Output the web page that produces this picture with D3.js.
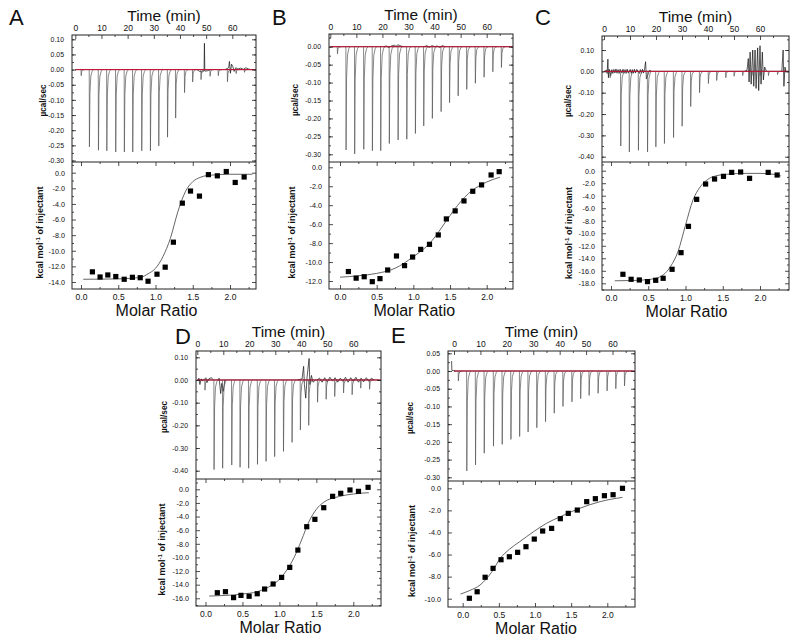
<!DOCTYPE html>
<html><head><meta charset="utf-8">
<script src="https://cdn.jsdelivr.net/npm/d3@7"></script>
<style>
body{margin:0;background:#fff}
svg{display:block}
text{font-family:"Liberation Sans",Arial,sans-serif;fill:#111}
</style>
</head><body>
<svg id="c" width="800" height="642"></svg>
<script>
// ---------- DATA ----------
const timeTicks = [0,10,20,30,40,50,60];
const ratioTicks = [0,0.5,1.0,1.5,2.0];
const topTicksA = [0.10,0.05,0,-0.05,-0.10,-0.15,-0.20,-0.25,-0.30];
const topTicksB = [0,-0.05,-0.10,-0.15,-0.20,-0.25,-0.30];
const topTicksC = [0.10,0,-0.10,-0.20,-0.30,-0.40];
const topTicksD = [0.10,0,-0.10,-0.20,-0.30,-0.40];
const topTicksE = [0.05,0,-0.05,-0.10,-0.15,-0.20,-0.25,-0.30];
const botTicksA = [0,-2,-4,-6,-8,-10,-12,-14];
const botTicksB = [0,-2,-4,-6,-8,-10,-12];
const botTicksC = [0,-2,-4,-6,-8,-10,-12,-14,-16,-18];
const botTicksD = [0,-2,-4,-6,-8,-10,-12,-14,-16];
const botTicksE = [0,-2,-4,-6,-8,-10];

// injection peaks: [time (min), peak minimum (ucal/sec)]
const aPeaks = [[2.2,-0.02],[5.35,-0.255],[8.8,-0.266],[12.0,-0.268],[15.4,-0.272],[18.7,-0.272],[21.9,-0.272],[25.35,-0.268],[28.66,-0.268],[31.85,-0.252],[35.2,-0.223],[38.3,-0.16],[41.7,-0.076],[44.8,-0.041],[48.0,-0.033],[51.46,-0.022],[54.6,-0.02],[58.1,-0.04],[61.4,-0.013],[64.6,-0.009]];
const bPeaks = [[2.7,-0.02],[6.0,-0.288],[9.3,-0.299],[12.8,-0.286],[16.1,-0.29],[19.3,-0.29],[22.6,-0.27],[25.96,-0.26],[29.3,-0.258],[32.6,-0.242],[35.8,-0.221],[39.1,-0.2],[42.46,-0.181],[45.7,-0.156],[49.0,-0.137],[52.3,-0.119],[55.6,-0.102],[58.95,-0.085],[62.3,-0.07],[65.6,-0.058]];
const cPeaks = [[2.3,-0.03],[6.4,-0.35],[9.7,-0.378],[13.2,-0.37],[16.7,-0.378],[19.9,-0.354],[23.2,-0.338],[26.7,-0.31],[30.0,-0.257],[33.3,-0.165],[36.7,-0.1],[40.1,-0.057],[43.3,-0.043],[46.8,-0.03],[50.0,-0.023],[53.3,-0.02],[56.8,-0.02],[60.0,-0.02],[63.2,-0.02],[66.7,-0.015]];
const dPeaks = [[2.9,-0.045],[6.4,-0.395],[9.7,-0.389],[13.2,-0.375],[16.4,-0.385],[19.7,-0.389],[23.1,-0.372],[26.4,-0.359],[29.7,-0.338],[33.1,-0.315],[36.4,-0.275],[39.6,-0.22],[42.8,-0.2],[46.2,-0.098],[49.5,-0.085],[52.8,-0.073],[56.2,-0.057],[59.5,-0.065],[62.8,-0.036],[66.2,-0.041]];
const ePeaks = [[1.6,-0.028],[4.8,-0.282],[8.1,-0.265],[11.4,-0.232],[14.9,-0.212],[18.2,-0.207],[21.5,-0.193],[24.8,-0.185],[28.0,-0.172],[31.3,-0.16],[34.6,-0.143],[37.9,-0.119],[41.2,-0.1],[44.6,-0.087],[47.9,-0.078],[51.1,-0.069],[54.5,-0.063],[57.9,-0.056],[61.2,-0.05],[64.5,-0.042]];

// baseline disturbances: polylines of [time, ucal/sec]
const aNoise = [
  [[46.5,0],[47.5,-0.006],[48.5,-0.008],[49.2,-0.004],[49.35,0.087],[49.5,-0.005],[50.5,-0.004],[51.5,0]],
  [[57.2,0],[58.6,0.006],[58.9,0.027],[59.3,-0.012],[59.7,0.018],[60.2,0.01],[60.7,-0.006],[61.3,0.006],[62.2,0.002],[63.2,0.005],[64.2,0.001],[65.2,0.006],[66.2,0.002],[67,0]]
];
const bNoise = [
  [[20.5,0],[21.5,0.002],[22.3,-0.002],[23.8,0.003],[24.6,0.004],[25.2,0.001],[25.9,0.005],[26.4,0.004],[27.1,0.002],[28,0]],
  [[36,0],[37,0.003],[38,-0.002],[39,0.003],[40,0],[41,0.002],[42,-0.002],[43,0.003],[44,0]]
];
const cNoise = [
  [[0.4,0],[0.9,0.006],[1.2,-0.01],[1.5,0.057],[1.7,-0.03],[2.0,0.01],[2.4,-0.012],[2.6,-0.02],[3.0,0.008],[3.4,-0.01],[3.8,0.009],[4.2,-0.008],[4.6,0.011],[5.0,-0.009],[5.4,0.008],[5.8,-0.01],[6.2,0.01],[6.9,-0.008],[7.3,0.01],[7.7,-0.009],[8.1,0.008],[8.5,-0.01],[8.9,0.01],[9.3,-0.008],[10.1,0.009],[10.5,-0.01],[10.9,0.008],[11.3,-0.009],[11.7,0.01],[12.1,-0.008],[12.6,0.009],[13.6,-0.01],[14.0,0.008],[14.4,-0.009],[14.8,0.01],[15.2,-0.008],[15.6,0.01],[16.0,0.045],[16.3,-0.035],[17.0,-0.012],[17.5,0.005],[18.2,0]],
  [[54,0],[55,0.005],[55.5,0.06],[55.8,-0.05],[56.2,0.09],[56.6,-0.06],[57.2,0.1],[57.6,-0.07],[58.1,0.1],[58.5,-0.08],[59.1,0.11],[59.5,-0.09],[60,0.12],[60.4,-0.06],[60.9,0.09],[61.3,-0.04],[61.8,0.02],[62.5,0]],
  [[68.4,0],[68.9,0.1],[69.2,-0.07],[69.6,0.02],[70,0]]
];
const dNoise = [
  [[0.3,0],[0.6,0.008],[1.0,-0.02],[1.5,0.005],[2.0,-0.005],[3.3,0.01],[3.7,-0.012],[4.5,0.006],[5.5,0.01],[6.0,0.002]],
  [[7.8,0],[8.4,0.008],[9.0,-0.06],[9.4,-0.015],[10.0,-0.05],[10.6,0]],
  [[38.5,0],[40.3,0.005],[40.9,0.06],[41.2,-0.02],[41.7,-0.08],[42.2,0.01],[43.0,0.095],[43.3,-0.02],[43.9,0.02],[44.5,-0.01],[45.5,0]],
  [[46,0],[47,0.008],[48,-0.01],[49,0.01],[50,-0.008],[51,0.012],[52,-0.005],[53,0.01],[54,-0.01],[55,0.008],[56,-0.006],[57,0.012],[58,-0.01],[59,0.01],[60,-0.005],[61,0.012],[62,-0.01],[63,0.008],[64,-0.008],[65,0.01],[66,-0.006],[67,0.008],[68,0]]
];
const eNoise = [
  [[-0.9,0.028],[-0.8,0.002],[0.5,0]]
];

// integrated heats: molar ratio and kcal/mol of injectant
const aRatio = [0.153,0.256,0.36,0.467,0.58,0.69,0.795,0.90,1.02,1.13,1.24,1.36,1.47,1.59,1.71,1.83,1.95,2.07,2.19];
const aHeat  = [-12.7,-13.36,-13.1,-13.3,-13.65,-13.4,-13.45,-13.9,-13.0,-12.1,-8.9,-3.9,-2.35,-3.0,-0.25,-0.4,0.15,-1.25,-0.55];
const aFitX  = [0.03,0.5,0.8,0.9,1.0,1.1,1.2,1.3,1.4,1.5,1.6,1.7,2.0,2.3];
const aFitY  = [-13.65,-13.6,-13.4,-12.95,-12.25,-10.75,-8.4,-5.0,-2.45,-1.15,-0.6,-0.35,-0.2,-0.2];

const bRatio = [0.114,0.22,0.33,0.44,0.545,0.65,0.77,0.88,0.99,1.10,1.22,1.34,1.45,1.57,1.69,1.81,1.93,2.06,2.17];
const bHeat  = [-11.0,-11.7,-11.55,-12.07,-11.75,-10.84,-9.36,-10.38,-9.47,-8.66,-8.13,-7.14,-5.45,-4.6,-3.55,-2.53,-1.86,-0.81,-0.46];
const bFitX  = [0.0,0.25,0.5,0.75,1.0,1.2,1.3,1.4,1.5,1.6,1.7,1.8,1.9,2.0,2.18];
const bFitY  = [-11.6,-11.45,-11.2,-10.66,-9.43,-8.2,-7.3,-6.2,-5.1,-4.05,-3.15,-2.45,-1.95,-1.55,-1.05];

const cRatio = [0.16,0.27,0.38,0.49,0.60,0.70,0.82,0.94,1.04,1.15,1.27,1.39,1.51,1.62,1.74,1.86,2.11,2.23];
const cHeat  = [-16.56,-17.36,-17.47,-17.73,-17.52,-17.2,-15.76,-13.1,-8.9,-4.58,-2.13,-1.33,-0.9,-0.27,-0.21,-1.22,-0.27,-0.69];
const cFitX  = [0.05,0.3,0.5,0.6,0.7,0.8,0.9,1.0,1.1,1.2,1.3,1.4,1.6,1.8,2.0,2.2,2.28];
const cFitY  = [-17.6,-17.55,-17.4,-17.2,-16.67,-15.3,-12.9,-8.7,-4.7,-2.55,-1.38,-0.85,-0.53,-0.43,-0.43,-0.6,-0.85];

const dRatio = [0.16,0.27,0.38,0.48,0.59,0.70,0.80,0.915,1.03,1.14,1.25,1.37,1.48,1.60,1.72,1.83,1.955,2.07,2.20];
const dHeat  = [-15.18,-15.03,-15.9,-15.57,-15.7,-15.33,-14.64,-13.9,-12.93,-11.46,-8.92,-5.49,-4.41,-2.7,-1.03,-0.59,-0.1,-0.3,0.29];
const dFitX  = [0.05,0.5,0.7,0.9,1.0,1.1,1.2,1.3,1.4,1.5,1.6,1.8,2.0,2.21];
const dFitY  = [-15.67,-15.37,-15.03,-14.05,-13.22,-11.85,-9.99,-7.44,-4.75,-2.94,-1.9,-1.08,-0.69,-0.5];

const eRatio = [0.092,0.2,0.31,0.42,0.53,0.645,0.76,0.875,0.99,1.106,1.23,1.35,1.46,1.585,1.715,1.835,1.96,2.08,2.21];
const eHeat  = [-9.96,-9.37,-8.06,-7.25,-6.47,-6.2,-5.8,-5.29,-4.6,-3.87,-3.63,-2.75,-2.27,-1.97,-1.21,-0.94,-0.67,-0.58,0.0];
const eFitX  = [-0.03,0.1,0.24,0.4,0.52,0.65,0.79,0.98,1.16,1.35,1.62,1.9,2.21];
const eFitY  = [-9.58,-9.25,-8.76,-7.6,-6.34,-5.5,-4.83,-3.93,-3.17,-2.57,-1.81,-1.21,-0.82];

// ---------- LAYOUT ----------
const layouts = {
  A:{x0:72,x1:256,y0:35,ys:162,y1:289,t:[75.3,232.3],top:[[0.10,39.3],[-0.30,160.5]],bot:[[0,172.7],[-14,282]],mr:[81,230],letter:[9,25],muX:45,kcX:43},
  B:{x0:329,x1:513,y0:34,ys:162,y1:289,t:[330.3,486.7],top:[[0,46.7],[-0.30,154.3]],bot:[[0,167.3],[-12,281]],mr:[340,486.7],letter:[272,25],muX:297.5,kcX:295},
  C:{x0:602,x1:789,y0:36,ys:162,y1:290,t:[604,760],top:[[0.10,50],[-0.40,156.7]],bot:[[0,170.7],[-18,283.3]],mr:[611,760],letter:[535,25],muX:570.5,kcX:572},
  D:{x0:196,x1:381,y0:351,ys:479,y1:606,t:[197.3,353.3],top:[[0.10,357.3],[-0.40,470.7]],bot:[[0,489.3],[-16,598.3]],mr:[205.5,353.3],letter:[175,344],muX:166,kcX:165},
  E:{x0:448,x1:635,y0:351,ys:481,y1:607,t:[454,612.5],top:[[0.05,353.3],[-0.30,477.3]],bot:[[0,488.3],[-10,598.7]],mr:[462.7,607.3],letter:[391,343],muX:412.5,kcX:415}
};
const panels = [
  {id:"A",peaks:aPeaks,noise:aNoise,ratio:aRatio,heat:aHeat,fitX:aFitX,fitY:aFitY,topTicks:topTicksA,botTicks:botTicksA,topStep:0.025},
  {id:"B",peaks:bPeaks,noise:bNoise,ratio:bRatio,heat:bHeat,fitX:bFitX,fitY:bFitY,topTicks:topTicksB,botTicks:botTicksB,topStep:0.025},
  {id:"C",peaks:cPeaks,noise:cNoise,ratio:cRatio,heat:cHeat,fitX:cFitX,fitY:cFitY,topTicks:topTicksC,botTicks:botTicksC,topStep:0.05},
  {id:"D",peaks:dPeaks,noise:dNoise,ratio:dRatio,heat:dHeat,fitX:dFitX,fitY:dFitY,topTicks:topTicksD,botTicks:botTicksD,topStep:0.05},
  {id:"E",peaks:ePeaks,noise:eNoise,ratio:eRatio,heat:eHeat,fitX:eFitX,fitY:eFitY,topTicks:topTicksE,botTicks:botTicksE,topStep:0.025}
];
// injection peak outline (minutes after injection, fraction of depth)
const peakTemplate = [[-0.03,0],[0.05,1],[0.25,0.3],[0.6,0.08],[1.1,0.02],[1.6,0]];

const svg = d3.select("#c");
const FONT = '"Liberation Sans",Arial,sans-serif';
const fix = s => s.replace("\u2212","-");
const f2 = v => fix(d3.format(".2f")(v));
const f1 = v => fix(d3.format(".1f")(v));

function styleAxis(g, size){
  g.select(".domain").remove();
  g.selectAll(".tick line").attr("stroke","#222").attr("stroke-width",0.8);
  g.selectAll("text").attr("font-size",size).attr("font-family",FONT).attr("fill","#111");
}
function minorRange(lo, hi, step){
  const out=[]; const s=Math.ceil(lo/step-1e-9);
  for(let k=s;k*step<=hi+1e-9;k++) out.push(+(k*step).toFixed(6));
  return out;
}

panels.forEach(p=>{
  const L = layouts[p.id];
  const g = svg.append("g");
  const xT = d3.scaleLinear().domain([0,60]).range(L.t);
  const yTop = d3.scaleLinear().domain([L.top[0][0],L.top[1][0]]).range([L.top[0][1],L.top[1][1]]);
  const yBot = d3.scaleLinear().domain([L.bot[0][0],L.bot[1][0]]).range([L.bot[0][1],L.bot[1][1]]);
  const xR = d3.scaleLinear().domain([0,2]).range(L.mr);
  const tMin = xT.invert(L.x0), tMax = xT.invert(L.x1);
  const vTopLo = yTop.invert(L.ys), vTopHi = yTop.invert(L.y0);
  const vBotLo = yBot.invert(L.y1), vBotHi = yBot.invert(L.ys);
  const rMin = xR.invert(L.x0), rMax = xR.invert(L.x1);

  const defs = g.append("defs");
  defs.append("clipPath").attr("id","ct"+p.id).append("rect")
    .attr("x",L.x0).attr("y",L.y0).attr("width",L.x1-L.x0).attr("height",L.ys-L.y0);
  defs.append("clipPath").attr("id","cb"+p.id).append("rect")
    .attr("x",L.x0).attr("y",L.ys).attr("width",L.x1-L.x0).attr("height",L.y1-L.ys);

  // --- thermogram ---
  const lineT = d3.line().x(d=>xT(d[0])).y(d=>yTop(d[1]));
  const gt = g.append("g").attr("clip-path",`url(#ct${p.id})`);
  gt.append("path").attr("d",lineT([[0,0],[tMax-0.5,0]])).attr("fill","none").attr("stroke","#111").attr("stroke-width",0.9);
  p.noise.forEach(seg=>{
    gt.append("path").attr("d",lineT(seg)).attr("fill","none").attr("stroke","#111").attr("stroke-width",0.7);
  });
  p.peaks.forEach(([t,d])=>{
    const pts = peakTemplate.map(([dt,f])=>[t+dt,d*f]);
    gt.append("path").attr("d",lineT(pts)).attr("fill","none").attr("stroke","#555").attr("stroke-width",0.7);
  });
  gt.append("path").attr("d",lineT([[0,0],[tMax,0]])).attr("fill","none").attr("stroke","#e0103a").attr("stroke-width",0.9);

  // --- binding isotherm ---
  const gb = g.append("g").attr("clip-path",`url(#cb${p.id})`);
  const fit = p.fitX.map((x,i)=>[x,p.fitY[i]]);
  gb.append("path").attr("d",d3.line().curve(d3.curveMonotoneX).x(d=>xR(d[0])).y(d=>yBot(d[1]))(fit))
    .attr("fill","none").attr("stroke","#555").attr("stroke-width",0.9);
  gb.selectAll("rect.pt").data(p.ratio.map((r,i)=>[r,p.heat[i]])).enter().append("rect")
    .attr("x",d=>xR(d[0])-2.6).attr("y",d=>yBot(d[1])-2.6).attr("width",5.2).attr("height",5.2).attr("fill","#000");

  // --- axes: top panel ---
  const ax1 = g.append("g").attr("transform",`translate(0,${L.y0})`)
    .call(d3.axisTop(xT).tickValues(timeTicks).tickSize(-4).tickPadding(4).tickFormat(d3.format("d")));
  styleAxis(ax1,8.5);
  const ax1m = g.append("g").attr("transform",`translate(0,${L.y0})`)
    .call(d3.axisTop(xT).tickValues(minorRange(tMin,tMax,5).filter(v=>v%10!==0)).tickSize(-2).tickFormat(""));
  styleAxis(ax1m,8);
  const ax2 = g.append("g").attr("transform",`translate(${L.x0},0)`)
    .call(d3.axisLeft(yTop).tickValues(p.topTicks).tickSize(-4).tickPadding(8).tickFormat(f2));
  styleAxis(ax2,6.9);
  const topMinor = minorRange(vTopLo,vTopHi,p.topStep);
  [[d3.axisLeft,L.x0],[d3.axisRight,L.x1]].forEach(([fn,x])=>{
    const a = g.append("g").attr("transform",`translate(${x},0)`).call(fn(yTop).tickValues(topMinor).tickSize(-2).tickFormat(""));
    styleAxis(a,7);
  });
  const ax2r = g.append("g").attr("transform",`translate(${L.x1},0)`)
    .call(d3.axisRight(yTop).tickValues(p.topTicks).tickSize(-4).tickFormat(""));
  styleAxis(ax2r,7);

  // --- axes: bottom panel ---
  const ax3 = g.append("g").attr("transform",`translate(0,${L.y1})`)
    .call(d3.axisBottom(xR).tickValues(ratioTicks).tickSize(-4).tickPadding(5).tickFormat(f1));
  styleAxis(ax3,8.5);
  const ratioMinor = minorRange(rMin,rMax,0.25).filter(v=>Math.abs(v*2-Math.round(v*2))>1e-6);
  [[d3.axisBottom,L.y1],[d3.axisTop,L.ys]].forEach(([fn,y])=>{
    const a = g.append("g").attr("transform",`translate(0,${y})`).call(fn(xR).tickValues(ratioMinor).tickSize(-2).tickFormat(""));
    styleAxis(a,7);
  });
  const ax3t = g.append("g").attr("transform",`translate(0,${L.ys})`)
    .call(d3.axisTop(xR).tickValues(ratioTicks).tickSize(-4).tickFormat(""));
  styleAxis(ax3t,7);
  const ax4 = g.append("g").attr("transform",`translate(${L.x0},0)`)
    .call(d3.axisLeft(yBot).tickValues(p.botTicks).tickSize(-4).tickPadding(7).tickFormat(f1));
  styleAxis(ax4,7.2);
  const botMinor = minorRange(vBotLo,vBotHi,1).filter(v=>Math.abs(v%2)===1);
  [[d3.axisLeft,L.x0],[d3.axisRight,L.x1]].forEach(([fn,x])=>{
    const a = g.append("g").attr("transform",`translate(${x},0)`).call(fn(yBot).tickValues(botMinor).tickSize(-2).tickFormat(""));
    styleAxis(a,7);
  });
  const ax4r = g.append("g").attr("transform",`translate(${L.x1},0)`)
    .call(d3.axisRight(yBot).tickValues(p.botTicks).tickSize(-4).tickFormat(""));
  styleAxis(ax4r,7);

  // --- frames ---
  g.append("rect").attr("x",L.x0).attr("y",L.y0).attr("width",L.x1-L.x0).attr("height",L.y1-L.y0)
    .attr("fill","none").attr("stroke","#222").attr("stroke-width",1);
  g.append("line").attr("x1",L.x0).attr("x2",L.x1).attr("y1",L.ys).attr("y2",L.ys)
    .attr("stroke","#222").attr("stroke-width",1);

  // --- titles ---
  g.append("text").attr("x",L.letter[0]).attr("y",L.letter[1]).attr("font-size",22).text(p.id);
  g.append("text").attr("x",(L.x0+L.x1)/2).attr("y",L.y0-14).attr("text-anchor","middle").attr("font-size",15.5).text("Time (min)");
  g.append("text").attr("x",xR(1.0)+1).attr("y",L.y1+27).attr("text-anchor","middle").attr("font-size",16).text("Molar Ratio");
  g.append("text").attr("transform",`translate(${L.muX+0.5},${(L.y0+L.ys)/2+2}) rotate(-90)`)
    .attr("text-anchor","middle").attr("font-size",8.2).attr("font-weight","bold").text("\u00b5cal/sec");
  const kt = g.append("text").attr("transform",`translate(${L.kcX},${(L.ys+L.y1)/2+7}) rotate(-90)`)
    .attr("text-anchor","middle").attr("font-size",9).attr("font-weight","bold");
  kt.append("tspan").text("kcal mol");
  kt.append("tspan").attr("dy",-3.5).attr("font-size",6).text("-1");
  kt.append("tspan").attr("dy",3.5).text(" of injectant");
});
</script>
</body></html>
